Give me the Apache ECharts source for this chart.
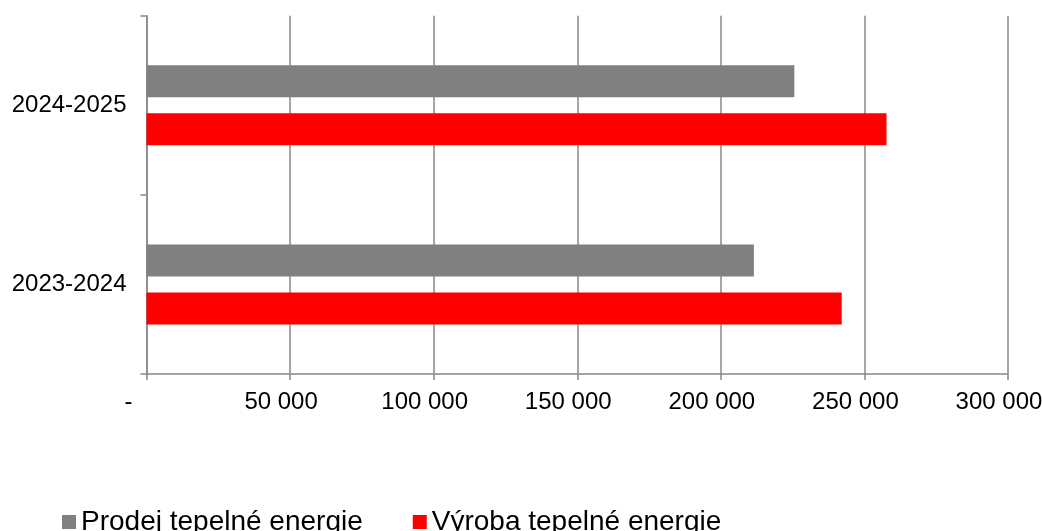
<!DOCTYPE html>
<html><head><meta charset="utf-8">
<script src="https://cdn.jsdelivr.net/npm/echarts@6/dist/echarts.min.js"></script>
<style>html,body{margin:0;padding:0;background:#fff;overflow:hidden}#c{width:1042px;height:531px}</style>
</head><body><div id="c"></div>
<script>
const categories = ['2023-2024', '2024-2025'];
const prodej = [211500, 225600];
const vyroba = [242100, 257700];
const xTicks = [0, 50000, 100000, 150000, 200000, 250000, 300000];
const seriesNames = ['Prodej tepelné energie', 'Výroba tepelné energie'];

function fmt(v) {
  if (v === 0) return '{z|-}';
  return String(v).replace(/\B(?=(\d{3})+(?!\d))/g, ' ');
}
const chart = echarts.init(document.getElementById('c'), null, {renderer: 'canvas', width: 1042, height: 531});
const font = 'Liberation Sans';
chart.setOption({
  animation: false,
  backgroundColor: '#fff',
  grid: {left: 146.5, right: 34, top: 15.7, bottom: 157, containLabel: false, outerBoundsMode: 'none'},
  legend: {
    data: seriesNames,
    left: 57, top: 503, itemWidth: 14, itemHeight: 14, itemGap: 50,
    icon: 'rect',
    textStyle: {fontFamily: font, fontSize: 28, color: '#000'}
  },
  xAxis: {
    type: 'value', min: 0, max: xTicks[xTicks.length - 1], interval: 50000,
    axisLine: {show: true, lineStyle: {color: '#888', width: 1.5}},
    axisTick: {show: true, length: 6, lineStyle: {color: '#888', width: 1.5}},
    splitLine: {show: true, lineStyle: {color: '#888', width: 1.5}},
    axisLabel: {
      formatter: fmt, fontFamily: font, fontSize: 24, color: '#000', margin: 16,
      padding: [0, 18, 0, 0],
      rich: {z: {fontFamily: font, fontSize: 24, color: '#000', padding: [0, 18, 0, 0]}}
    }
  },
  yAxis: {
    type: 'category', data: categories,
    axisLine: {show: true, lineStyle: {color: '#888', width: 1.5}},
    axisTick: {show: true, length: 6, lineStyle: {color: '#888', width: 1.5}},
    axisLabel: {fontFamily: font, fontSize: 24, color: '#000', margin: 20}
  },
  series: [
    {name: seriesNames[0], type: 'bar', data: prodej, barWidth: 32, barGap: '50%', itemStyle: {color: '#808080'}},
    {name: seriesNames[1], type: 'bar', data: vyroba, barWidth: 32, barGap: '50%', itemStyle: {color: '#ff0000'}}
  ]
});
</script></body></html>
